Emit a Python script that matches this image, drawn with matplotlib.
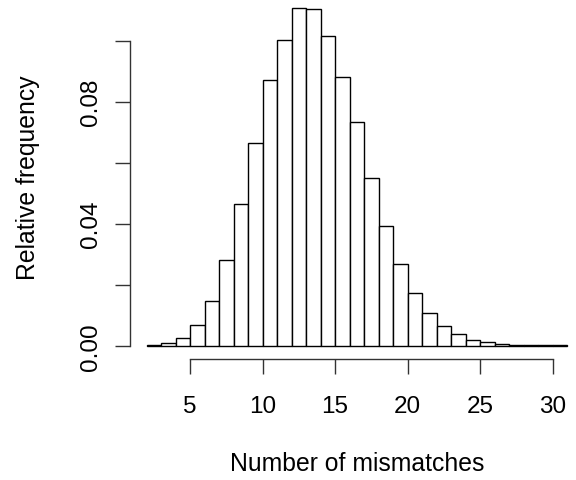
import matplotlib
matplotlib.use("Agg")
import matplotlib.pyplot as plt

plt.rcParams['font.family'] = ['Liberation Sans', 'DejaVu Sans']

# histogram bins (left edges, width 1) and relative frequencies
bin_left = list(range(2, 31))
rel_freq = [0.0002, 0.0009, 0.0024, 0.0069, 0.0147, 0.0281, 0.0466, 0.0666,
            0.0872, 0.1002, 0.1107, 0.1104, 0.1016, 0.0880, 0.0733, 0.0549,
            0.0391, 0.0268, 0.0174, 0.0107, 0.0065, 0.0038, 0.0020, 0.0011,
            0.0005, 0.0003, 0.0002, 0.0001, 0.0001]

x_ticks = [5, 10, 15, 20, 25, 30]
y_ticks = [0.00, 0.02, 0.04, 0.06, 0.08, 0.10]
y_tick_labels = ['0.00', '', '0.04', '', '0.08', '']

fig = plt.figure(figsize=(5.76, 4.81), dpi=100)
# R-style plot region (extends slightly past the cropped figure edge)
ax = fig.add_axes([0.2252, 0.2513, 0.7884, 0.7578])

ax.bar(bin_left, rel_freq, width=1, align='edge', facecolor='white',
       edgecolor='black', linewidth=1.0)

ax.set_xlim(0.84, 32.16)
ax.set_ylim(-0.0044, 0.1151)

for side in ['top', 'right']:
    ax.spines[side].set_visible(False)
ax.spines['left'].set_bounds(0, 0.10)
ax.spines['bottom'].set_bounds(5, 30)
for side in ['left', 'bottom']:
    ax.spines[side].set_linewidth(1.0)
    ax.spines[side].set_color('#333333')

ax.set_xticks(x_ticks)
ax.set_xticklabels([str(v) for v in x_ticks])
ax.set_yticks(y_ticks)
ax.set_yticklabels(y_tick_labels, rotation=90, va='center')

ax.tick_params(axis='both', direction='out', length=11, width=1.0,
               color='#333333', labelsize=17.5)
ax.tick_params(axis='x', pad=15)
ax.tick_params(axis='y', pad=9)

ax.set_xlabel('Number of mismatches', fontsize=17.8)
ax.set_ylabel('Relative frequency', fontsize=17.8)
ax.xaxis.set_label_coords((356.7 - 129.7) / 454.1, -(452 - 360.1) / 364.5)
ax.yaxis.set_label_coords(-(129.7 - 40) / 454.1, 0.5)

fig.savefig('out.png', dpi=100)
